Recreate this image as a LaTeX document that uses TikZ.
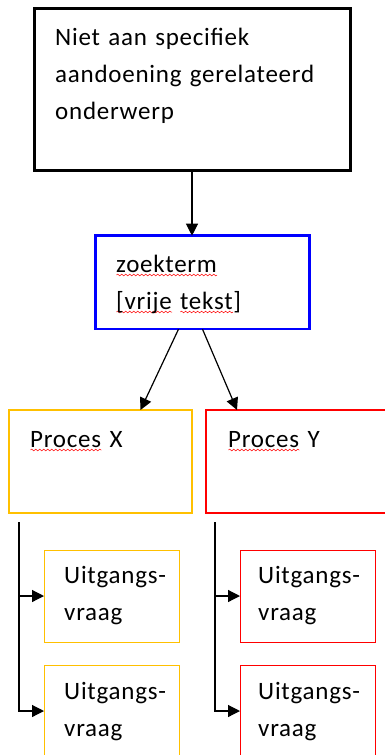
\documentclass[tikz,border=0pt]{standalone}
\usepackage{fontspec}
\setmainfont[WordSpace=0.4, LetterSpace=3]{Carlito}
\usetikzlibrary{arrows.meta,decorations.pathmorphing}
\definecolor{qgold}{HTML}{FFC000}
\definecolor{qblue}{HTML}{0000FF}
\definecolor{qred}{HTML}{FF0000}
\newcommand{\fs}{\fontsize{25pt}{37pt}\selectfont}
\newlength{\typowd}
% red wavy underline of the spell checker
\newcommand{\typo}[1]{\leavevmode\settowidth{\typowd}{#1}\rlap{\tikz[baseline=0pt]\draw[red, line width=0.5pt, decorate, decoration={snake, segment length=4pt, amplitude=0.9pt}] (0pt,-3pt) -- (\typowd,-3pt);}#1}

\begin{document}
\begin{tikzpicture}[x=1pt, y=-1pt,
    box/.style={draw, rectangle, anchor=north west, outer sep=0pt, inner sep=0pt},
    txt/.style={anchor=base west, inner sep=0pt, text width=320pt, align=left, font=\fs},
    arr/.style={-{Triangle[length=12pt,width=12pt]}, line width=1.2pt}]
    \useasboundingbox (0,0) rectangle (384,755);

    % Topic
    \node[box, line width=3pt, minimum width=316pt, minimum height=161.5pt] (topic) at (34,8.5) {};
    \node[txt] (topic-text) at (55,45) {Niet aan specifiek\\aandoening gerelateerd\\onderwerp};

    % Search term
    \node[box, draw=qblue, line width=2.5pt, minimum width=214pt, minimum height=93.5pt] (query) at (95.5,235.7) {};
    \node[txt] (query-text) at (116,272) {\typo{zoekterm}\\\typo{[vrije} \typo{tekst}]};

    % Processes
    \node[box, draw=qgold, line width=2.5pt, minimum width=183pt, minimum height=103pt] (procX) at (9,410) {};
    \node[box, draw=qred, line width=2.5pt, minimum width=183pt, minimum height=103pt] (procY) at (206,410) {};
    \node[txt] (procX-text) at (30,447) {\typo{Proces} X};
    \node[txt] (procY-text) at (228,447) {\typo{Proces} Y};

    \draw[arr] (topic.south) -- (topic.south |- query.north);
    \draw[arr] ([xshift=-24pt]query.south) -- ([xshift=40pt]procX.north);
    \draw[arr] (query.south) -- ([xshift=31pt]procY.north west);

    % Questions
    \node[box, draw=qgold, line width=1pt, minimum width=135pt, minimum height=92pt] (qX-1) at (44,550) {};
    \node[box, draw=qgold, line width=1pt, minimum width=135pt, minimum height=92pt] (qX-2) at (44,665) {};
    \node[box, draw=qred, line width=1pt, minimum width=135pt, minimum height=92pt] (qY-1) at (240,550) {};
    \node[box, draw=qred, line width=1pt, minimum width=135pt, minimum height=92pt] (qY-2) at (240,665) {};
    \node[txt] (qX-1-text) at (64,583) {Uitgangs-\\vraag};
    \node[txt] (qX-2-text) at (64,699) {Uitgangs-\\vraag};
    \node[txt] (qY-1-text) at (258,583) {Uitgangs-\\vraag};
    \node[txt] (qY-2-text) at (258,699) {Uitgangs-\\vraag};

    \coordinate (trunkX) at (19,522);
    \coordinate (trunkY) at (215,522);
    \draw[arr] (trunkX) |- (qX-1.west);
    \draw[arr] (trunkX) |- (qX-2.west);
    \draw[arr] (trunkY) |- (qY-1.west);
    \draw[arr] (trunkY) |- (qY-2.west);

\end{tikzpicture}
\end{document}
